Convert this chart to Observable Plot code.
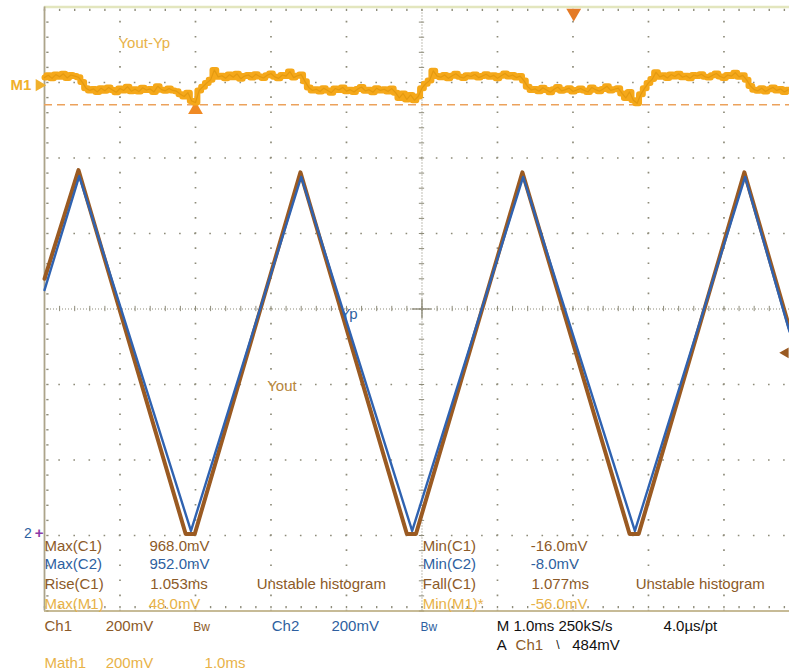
<!DOCTYPE html>
<html><head><meta charset="utf-8">
<script src="https://cdn.jsdelivr.net/npm/d3@7"></script>
<script src="https://cdn.jsdelivr.net/npm/@observablehq/plot@0.6"></script>
<style>
html,body{margin:0;padding:0;background:#fff;overflow:hidden}
svg{display:block}
</style></head><body><div id="chart"></div>
<script>
// Oscilloscope capture: time base 1.0 ms/div, Ch1 / Ch2 / Math1 at 200 mV/div
const ch1Times = [0, 0.45, 1.87, 1.99, 3.39, 4.80, 4.92, 6.33, 7.75, 7.87, 9.27, 9.868];
const ch1Volts = [0.68, 0.968, 0.004, 0.004, 0.962, 0.004, 0.004, 0.962, 0.004, 0.004, 0.962, 0.55];
const ch2Times = [0, 0.46, 1.94, 3.40, 4.87, 6.34, 7.82, 9.28, 9.868];
const ch2Volts = [0.65, 0.952, 0.012, 0.950, 0.012, 0.950, 0.012, 0.950, 0.54];

// Math1 = Yout - Yp (mV), sampled every 0.05 ms
const m1Step = 0.05;
const m1Values = [
  20, 26, 18, 28, 22, 30, 19, 27, 24, 21,
  8, -8, -14,
  -10,-18,-8,-15,-6,-13,-19,-9,-14,-4,-16,-11,-17,-7,-13,-10,-18,-3,-12,-15,-9,-14,
  -16,-24,-30,-20,-42,-46,-14,-4,6,14,40,22,
  25,18,28,21,30,17,24,27,20,29,23,19,26,31,22,18,27,24,36,20,25,28,
  10,-6,-14,
  -11,-17,-8,-14,-20,-9,-13,-6,-16,-12,-18,-10,-5,-15,-12,-19,-8,-14,-11,-17,-9,
  -20,-34,-22,-38,-26,-40,-30,
  -8,4,12,38,24,
  21,27,18,25,30,22,19,26,23,28,20,24,29,22,26,18,25,31,23,27,20,24,
  12,-4,-13,
  -10,-16,-7,-13,-19,-11,-5,-15,-12,-8,-17,-13,-9,-14,-18,-6,-12,-16,-10,-3,-14,-11,
  -8,-22,-34,-18,-40,-48,-24,
  -8,6,16,34,22,
  26,19,28,23,30,21,25,18,27,24,29,22,20,26,31,23,19,27,24,33,22,26,
  14,-2,-12,
  -15,-8,-17,-11,-6,-14,-10,-18,-12
];
const m1Offset = 1.193;      // on-screen position of Math1 ground (V on Ch1 scale)
const m1CursorMv = -52;      // dashed Math1 cursor level
const m1CursorTime = 2.0;
const triggerLevel = 0.484;  // A Ch1 falling 484 mV
const triggerTime = 7.01;

// Axis layout (divisions)
const xMax = 9.868;
const yMin = -0.2, yMax = 1.4;
const majorX = [1, 2, 3, 4, 6, 7, 8, 9];
const majorY = [0, 0.2, 0.4, 0.8, 1.0, 1.2];
const centerX = 5, centerY = 0.6;

// Colours
const BROWN = "#9a5a22", BLUE = "#2f62b0", AMBER = "#f5a81a", GOLD = "#e8b248";
const TXT_BROWN = "#8c5a28", TXT_BLUE = "#2e5fa0";

// Text labels
const traceLabels = [
  {t: 0.98, v: 1.303, text: "Yout-Yp", color: GOLD},
  {t: 3.92, v: 0.585, text: "Yp", color: TXT_BLUE},
  {t: 2.95, v: 0.395, text: "Yout", color: "#b8863a"}
];
const readouts = [
  {t: 0.0,  v: -0.027, text: "Max(C1)", color: TXT_BROWN},
  {t: 1.39, v: -0.027, text: "968.0mV", color: TXT_BROWN},
  {t: 0.0,  v: -0.077, text: "Max(C2)", color: TXT_BLUE},
  {t: 1.39, v: -0.077, text: "952.0mV", color: TXT_BLUE},
  {t: 0.0,  v: -0.130, text: "Rise(C1)", color: TXT_BROWN},
  {t: 1.40, v: -0.130, text: "1.053ms", color: TXT_BROWN},
  {t: 2.81, v: -0.130, text: "Unstable histogram", color: TXT_BROWN},
  {t: 0.0,  v: -0.181, text: "Max(M1)", color: GOLD},
  {t: 1.38, v: -0.181, text: "48.0mV", color: GOLD},
  {t: 5.01, v: -0.027, text: "Min(C1)", color: TXT_BROWN},
  {t: 6.44, v: -0.027, text: "-16.0mV", color: TXT_BROWN},
  {t: 5.01, v: -0.077, text: "Min(C2)", color: TXT_BLUE},
  {t: 6.44, v: -0.077, text: "-8.0mV", color: TXT_BLUE},
  {t: 5.01, v: -0.130, text: "Fall(C1)", color: TXT_BROWN},
  {t: 6.45, v: -0.130, text: "1.077ms", color: TXT_BROWN},
  {t: 7.83, v: -0.130, text: "Unstable histogram", color: TXT_BROWN},
  {t: 5.01, v: -0.181, text: "Min(M1)*", color: GOLD},
  {t: 6.44, v: -0.181, text: "-56.0mV", color: GOLD},
  {t: 0.0,  v: -0.241, text: "Ch1", color: TXT_BROWN},
  {t: 0.81, v: -0.241, text: "200mV", color: TXT_BROWN},
  {t: 1.97, v: -0.243, text: "Bw", color: TXT_BROWN, size: 12},
  {t: 3.01, v: -0.241, text: "Ch2", color: TXT_BLUE},
  {t: 3.80, v: -0.241, text: "200mV", color: TXT_BLUE},
  {t: 4.98, v: -0.243, text: "Bw", color: TXT_BLUE, size: 12},
  {t: 5.99, v: -0.241, text: "M 1.0ms 250kS/s", color: "#111111"},
  {t: 8.20, v: -0.241, text: "4.0µs/pt", color: "#111111"},
  {t: 5.99, v: -0.290, text: "A", color: "#111111"},
  {t: 6.24, v: -0.290, text: "Ch1", color: TXT_BROWN},
  {t: 6.78, v: -0.290, text: "\\", color: "#111111", size: 12},
  {t: 6.99, v: -0.290, text: "484mV", color: "#111111"},
  {t: 0.0,  v: -0.337, text: "Math1", color: GOLD},
  {t: 0.81, v: -0.337, text: "200mV", color: GOLD},
  {t: 2.12, v: -0.337, text: "1.0ms", color: GOLD}
];

// Build tables for the library
const ch1 = ch1Times.map((t, i) => ({t, v: ch1Volts[i]}));
const ch2 = ch2Times.map((t, i) => ({t, v: ch2Volts[i]}));
const m1 = m1Values.map((mv, i) => ({t: i * m1Step, v: m1Offset + mv / 1000}));
const m1Cursor = m1Offset + m1CursorMv / 1000;
const minorX = d3.range(0, xMax, 0.2);
const minorY = d3.range(yMin, yMax + 1e-9, 0.04);

const GRID = "#8e8c7a";
const dotDash = "1.6,13.5";

const chart = Plot.plot({
  width: 789, height: 672,
  marginLeft: 44, marginRight: 0, marginTop: 6.5, marginBottom: 61.5,
  x: {domain: [0, xMax], axis: null},
  y: {domain: [yMin, yMax], axis: null},
  color: {type: "identity"},
  style: {fontFamily: "'Liberation Sans', Arial, sans-serif", background: "#fff"},
  marks: [
    // dotted graticule
    Plot.ruleX(majorX, {stroke: GRID, strokeWidth: 1.7, strokeDasharray: dotDash, strokeDashoffset: 0.8}),
    Plot.ruleY(majorY, {stroke: GRID, strokeWidth: 1.7, strokeDasharray: dotDash, strokeDashoffset: 0.8}),
    // centre lines (dense dots + minor ticks + cross)
    Plot.ruleX([centerX], {stroke: GRID, strokeWidth: 1.1, strokeDasharray: "1,2"}),
    Plot.ruleY([centerY], {stroke: GRID, strokeWidth: 1.1, strokeDasharray: "1,2"}),
    Plot.ruleX(minorX, {y1: centerY - 0.007, y2: centerY + 0.007, stroke: GRID, strokeWidth: 1}),
    Plot.ruleY(minorY, {x1: centerX - 0.035, x2: centerX + 0.035, stroke: GRID, strokeWidth: 1}),
    Plot.ruleX([centerX], {y1: centerY - 0.026, y2: centerY + 0.026, stroke: GRID, strokeWidth: 1.4}),
    Plot.ruleY([centerY], {x1: centerX - 0.13, x2: centerX + 0.13, stroke: GRID, strokeWidth: 1.4}),
    // border ticks
    Plot.ruleX(minorX, {y1: yMax - 0.006, y2: yMax - 0.012, stroke: GRID, strokeWidth: 1.4}),
    Plot.ruleX(minorX, {y1: yMin + 0.006, y2: yMin + 0.012, stroke: GRID, strokeWidth: 1.4}),
    Plot.ruleY(minorY, {x1: 0.03, x2: 0.06, stroke: GRID, strokeWidth: 1.4}),
    // borders
    Plot.ruleY([yMax], {stroke: "#e3e6be", strokeWidth: 2.5}),
    Plot.ruleY([yMin], {stroke: "#b4a474", strokeWidth: 1.5}),
    Plot.ruleX([0], {stroke: "#aca48a", strokeWidth: 1.8}),

    // trace labels
    Plot.text(traceLabels, {x: "t", y: "v", text: "text", fill: "color", textAnchor: "start", fontSize: 15}),

    // Math1 cursor (dashed) and markers
    Plot.ruleY([m1Cursor], {stroke: "#eca25c", strokeWidth: 1.6, strokeDasharray: "8,5"}),
    Plot.dot([{t: m1CursorTime, v: m1Cursor}], {x: "t", y: "v", symbol: "triangle", r: 5.5, dy: 5, fill: "#f08a24", stroke: "none"}),
    Plot.dot([{t: triggerTime, v: yMax}], {x: "t", y: "v", symbol: "triangle", rotate: 180, r: 5.5, dy: 6, fill: "#e47a26", stroke: "none"}),
    Plot.dot([{t: xMax, v: triggerLevel}], {x: "t", y: "v", symbol: "triangle", rotate: -90, r: 4, dx: -4, fill: BROWN, stroke: "none"}),

    // Math1 trace
    Plot.line(m1, {x: "t", y: "v", stroke: AMBER, strokeWidth: 6, curve: "step"}),
    Plot.line(m1, {x: "t", y: "v", stroke: "#e0960e", strokeWidth: 1.2, strokeOpacity: 0.8}),

    // Ch1 (brown) and Ch2 (blue) triangle waves
    Plot.line(ch1, {x: "t", y: "v", stroke: BROWN, strokeWidth: 4}),
    Plot.line(ch2, {x: "t", y: "v", stroke: BLUE, strokeWidth: 2.4}),

    // left-side channel markers
    Plot.text([{t: -0.45, v: m1Offset}], {x: "t", y: "v", text: () => "M1", fill: "#f0b02c", fontWeight: "bold", fontSize: 15, textAnchor: "start"}),
    Plot.dot([{t: -0.07, v: m1Offset}], {x: "t", y: "v", symbol: "triangle", rotate: 90, r: 4.5, fill: "#f0b02c", stroke: "none"}),
    Plot.text([{t: -0.27, v: 0.005}], {x: "t", y: "v", text: () => "2", fill: TXT_BLUE, fontSize: 14, textAnchor: "start"}),
    Plot.text([{t: -0.13, v: 0.005}], {x: "t", y: "v", text: () => "+", fill: "#8a3aa8", fontSize: 15, fontWeight: "bold", textAnchor: "start"}),

    // measurement read-outs and status bar
    Plot.text(readouts, {x: "t", y: "v", text: "text", fill: "color", textAnchor: "start", fontSize: d => d.size ?? 15})
  ]
});
document.getElementById("chart").appendChild(chart);
</script>
</body></html>
